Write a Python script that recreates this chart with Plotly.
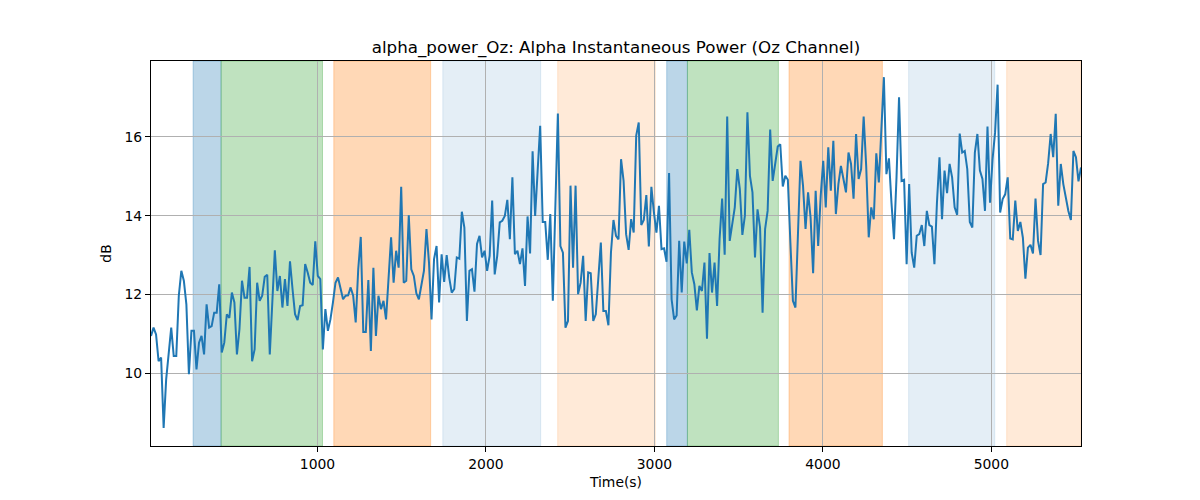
import plotly.graph_objects as go

# ---- data ----
t_start = 12
t_step = 15
power_db = [
    10.95, 11.16, 10.99, 10.31, 10.40, 8.62, 9.85, 10.44, 11.16, 10.44, 10.44, 11.97, 12.60, 12.35, 11.75, 9.98, 11.08,
    11.08, 10.10, 10.78, 10.95, 10.48, 11.75, 11.16, 11.20, 11.54, 11.54, 12.26, 10.53, 10.78, 11.50, 11.41, 12.05, 11.80,
    10.48, 11.12, 12.35, 11.92, 11.92, 12.70, 10.31, 10.61, 12.30, 11.84, 11.97, 12.45, 12.50, 10.48, 11.71, 13.12, 12.09,
    12.47, 11.67, 12.39, 11.71, 12.84, 12.14, 11.50, 11.35, 11.71, 11.73, 12.77, 12.56, 12.30, 12.24, 13.35, 12.47, 12.39,
    10.61, 11.63, 11.08, 11.37, 11.80, 12.30, 12.43, 12.14, 11.88, 11.97, 11.98, 12.18, 11.97, 11.29, 12.64, 13.46, 11.05,
    11.05, 12.37, 10.57, 12.68, 10.95, 11.97, 11.63, 11.84, 11.37, 12.47, 13.45, 12.30, 13.11, 12.68, 14.73, 12.30, 12.35,
    14.01, 12.64, 12.47, 12.03, 11.88, 12.30, 12.60, 13.66, 12.81, 11.37, 12.90, 13.23, 11.80, 13.02, 12.32, 13.00, 12.43,
    12.05, 12.14, 12.94, 12.91, 14.10, 13.70, 11.33, 12.60, 12.64, 12.07, 13.28, 13.49, 12.94, 13.11, 12.60, 12.98,
    14.38, 12.51, 12.98, 13.83, 13.87, 13.99, 14.40, 13.40, 14.97, 13.02, 13.11, 12.77, 13.17, 12.22, 13.98, 13.04, 15.63,
    13.99, 15.14, 16.28, 13.84, 13.84, 12.88, 14.04, 11.84, 14.04, 16.59, 13.23, 13.06, 11.16, 11.33, 14.76, 12.68, 14.76,
    12.01, 12.30, 12.98, 11.33, 12.56, 12.54, 11.33, 11.50, 12.30, 13.32, 11.58, 11.58, 11.22, 13.06, 13.89, 13.49, 13.40,
    15.43, 14.88, 13.53, 13.13, 13.91, 13.57, 16.03, 16.36, 13.76, 13.89, 14.52, 13.22, 14.73, 14.08, 13.57, 14.25, 13.15,
    13.17, 12.83, 15.08, 11.88, 11.37, 11.47, 13.36, 12.05, 13.34, 12.79, 13.64, 12.56, 12.26, 11.60, 12.22, 12.09, 12.81,
    10.88, 13.05, 12.05, 12.81, 11.71, 13.42, 14.43, 13.01, 16.51, 13.36, 13.78, 14.21, 15.18, 14.67, 13.51, 14.00,
    16.62, 15.01, 14.59, 12.94, 14.16, 13.70, 11.54, 13.66, 14.12, 16.18, 14.88, 15.26, 15.75, 15.81, 14.74, 15.01, 14.91,
    13.32, 11.84, 11.67, 13.36, 15.39, 14.76, 13.66, 14.59, 13.95, 12.54, 14.63, 13.23, 14.50, 15.39, 14.21, 15.73, 14.63,
    15.90, 14.04, 14.80, 15.26, 14.93, 14.59, 15.60, 15.31, 14.43, 16.07, 14.93, 15.18, 16.51, 15.26, 13.45, 14.21, 13.91,
    15.58, 14.84, 16.32, 17.51, 15.05, 15.45, 14.33, 13.40, 14.97, 17.00, 14.88, 14.91, 12.77, 14.80, 13.06, 12.68,
    13.49, 13.53, 13.76, 13.23, 14.12, 13.76, 13.72, 12.77, 14.33, 15.48, 13.91, 15.14, 14.57, 15.31, 14.97, 14.21, 14.02,
    16.08, 15.60, 15.64, 15.18, 13.84, 13.70, 15.60, 16.07, 15.14, 14.93, 14.12, 16.26, 14.33, 15.43, 16.11, 17.32, 14.08,
    14.42, 14.54, 14.97, 13.42, 13.40, 14.38, 13.61, 13.84, 13.44, 12.40, 13.19, 13.26, 13.04, 14.43, 13.36, 13.00,
    14.80, 14.84, 15.33, 16.07, 15.48, 16.58, 14.25, 15.31, 14.80, 14.42, 14.12, 13.89, 15.64, 15.48, 14.87, 15.22,
]
time_s = [t_start + t_step * i for i in range(len(power_db))]

span_starts = [262, 428, 1097, 1744, 2426, 3073, 3196, 3799, 4509, 5091]
span_ends = [428, 1030, 1672, 2325, 3005, 3196, 3736, 4353, 5020, 5532]
span_colors = ["31,119,180", "44,160,44", "255,127,14", "31,119,180", "255,127,14",
               "31,119,180", "44,160,44", "255,127,14", "31,119,180", "255,127,14"]
span_alphas = [0.3, 0.3, 0.3, 0.12, 0.16, 0.3, 0.3, 0.3, 0.12, 0.16]

x_ticks = [1000, 2000, 3000, 4000, 5000]
y_ticks = [10, 12, 14, 16]
x_range = [12, 5532]
y_range = [8.16, 17.92]

title = "alpha_power_Oz: Alpha Instantaneous Power (Oz Channel)"
x_label = "Time(s)"
y_label = "dB"

# ---- figure ----
fig = go.Figure()
fig.add_trace(go.Scatter(x=time_s, y=power_db, mode="lines",
                         line=dict(color="#1f77b4", width=2), showlegend=False))

for s, e, c, a in zip(span_starts, span_ends, span_colors, span_alphas):
    fig.add_vrect(x0=s, x1=e, fillcolor=f"rgba({c},{a})",
                  line=dict(color=f"rgba({c},{a})", width=1), layer="below")

font = "DejaVu Sans, sans-serif"
axis_common = dict(showgrid=True, gridcolor="#b0b0b0", gridwidth=0.8,
                   showline=True, linecolor="black", linewidth=1, mirror=True,
                   ticks="outside", ticklen=5, tickwidth=1, tickcolor="black",
                   zeroline=False, tickfont=dict(family=font, size=13.9, color="black"))

fig.update_layout(
    width=1200, height=500,
    margin=dict(l=143, r=127, t=53, b=62),
    paper_bgcolor="white", plot_bgcolor="white",
    title=dict(text=title, x=608 / 1200, xanchor="center", y=1 - 39 / 500, yanchor="middle",
               yref="container", font=dict(family=font, size=16.7, color="black")),
    xaxis=dict(range=x_range, tickvals=x_ticks, ticktext=[str(v) for v in x_ticks],
               title=dict(text=x_label, standoff=6, font=dict(family=font, size=13.9, color="black")),
               **axis_common),
    yaxis=dict(range=y_range, tickvals=y_ticks, ticktext=[str(v) for v in y_ticks],
               title=dict(text=y_label, standoff=9, font=dict(family=font, size=13.9, color="black")),
               **axis_common),
)

fig.write_html("out.html")
